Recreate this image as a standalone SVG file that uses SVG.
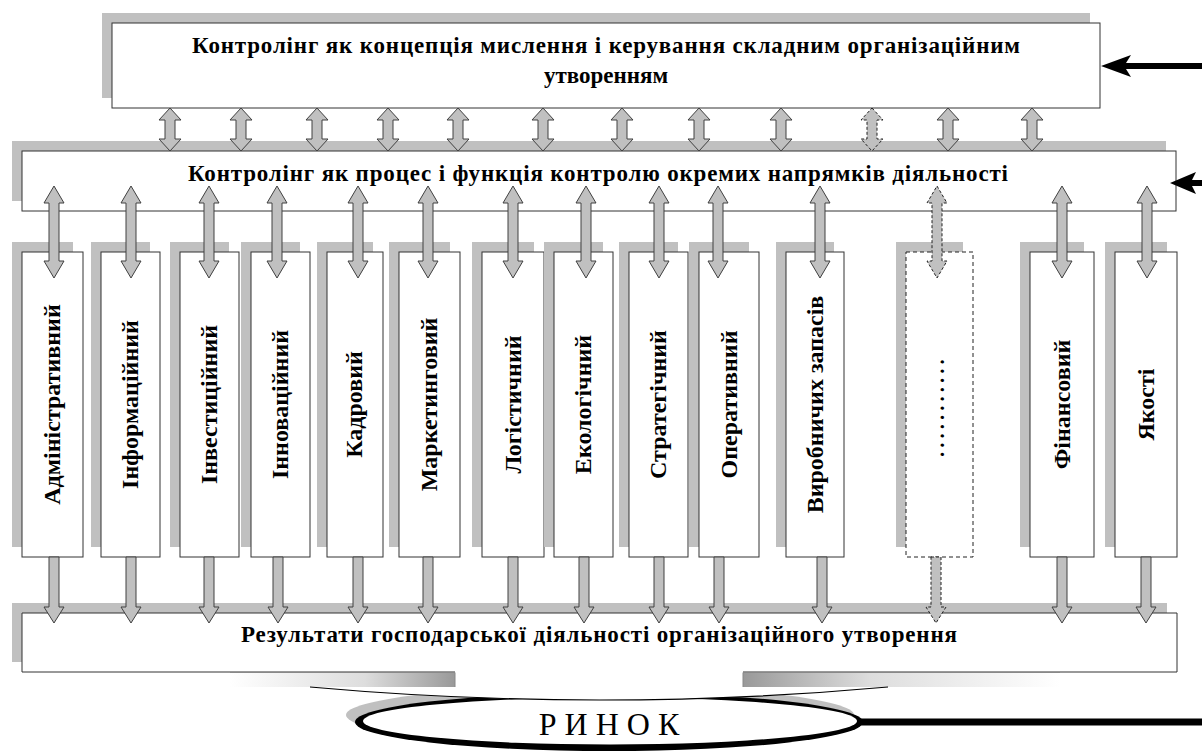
<svg xmlns="http://www.w3.org/2000/svg" width="1202" height="753" viewBox="0 0 1202 753">
<defs>
<style>
.sh{fill:#c0c0c0}
.bx{fill:#fff;stroke:#333;stroke-width:1}
.dbx{fill:#fff;stroke:#222;stroke-width:1;stroke-dasharray:4 3}
.t{font-family:"Liberation Serif","Times New Roman",serif;font-weight:bold;font-size:23px;fill:#000}
.vt{font-family:"Liberation Serif","Times New Roman",serif;font-weight:bold;font-size:24px;fill:#000;text-anchor:middle}
.arr{fill:#c0c0c0;stroke:#404040;stroke-width:1}
.darr{fill:#c0c0c0;stroke:#222;stroke-width:1;stroke-dasharray:3 2}
.blk{fill:#000}
</style>
<path id="dblS" d="M0,0 L11,12 L5,12 L5,31 L11,31 L0,43 L-11,31 L-5,31 L-5,12 L-11,12 Z"/>
<path id="dblL" d="M0,0 L10,17 L5,17 L5,75 L10,75 L0,92 L-10,75 L-5,75 L-5,17 L-10,17 Z"/>
<path id="down" d="M-5,0 L5,0 L5,50 L10,50 L0,66 L-10,50 L-5,50 Z"/>
<linearGradient id="gL" x1="0" x2="1" y1="0" y2="0"><stop offset="0" stop-color="#fff"/><stop offset="0.6" stop-color="#ddd"/><stop offset="1" stop-color="#999"/></linearGradient>
<linearGradient id="gR" x1="0" x2="1" y1="0" y2="0"><stop offset="0" stop-color="#999"/><stop offset="0.4" stop-color="#ddd"/><stop offset="1" stop-color="#fff"/></linearGradient>
</defs>
<rect width="1202" height="753" fill="#fff"/>

<g id="top-box">
<rect class="sh" x="102" y="13" width="988" height="85"/>
<rect class="bx" x="112" y="23" width="988" height="85"/>
<text class="t" x="606" y="53" text-anchor="middle" textLength="828" lengthAdjust="spacing">Контролінг як концепція мислення і керування складним організаційним</text>
<text class="t" x="606" y="83" text-anchor="middle">утворенням</text>
</g>

<g id="process-box">
<rect class="sh" x="12" y="141" width="1154" height="60"/>
<rect class="bx" x="22" y="151" width="1154" height="60"/>
<text class="t" x="598" y="181" text-anchor="middle" textLength="820" lengthAdjust="spacing">Контролінг як процес і функція контролю окремих напрямків діяльності</text>
</g>

<g id="box-adm"><rect class="sh" x="12" y="242" width="61" height="305"/><rect class="bx" x="22" y="252" width="61" height="305"/><text class="vt" transform="translate(60,404.5) rotate(-90)">Адміністративний</text></g>
<g id="box-inf"><rect class="sh" x="91" y="242" width="59" height="305"/><rect class="bx" x="101" y="252" width="59" height="305"/><text class="vt" transform="translate(138,404.5) rotate(-90)">Інформаційний</text></g>
<g id="box-inv"><rect class="sh" x="170" y="242" width="59" height="305"/><rect class="bx" x="180" y="252" width="59" height="305"/><text class="vt" transform="translate(217,404.5) rotate(-90)">Інвестиційний</text></g>
<g id="box-inn"><rect class="sh" x="241" y="242" width="59" height="305"/><rect class="bx" x="251" y="252" width="59" height="305"/><text class="vt" transform="translate(288,404.5) rotate(-90)">Інноваційний</text></g>
<g id="box-kad"><rect class="sh" x="317" y="242" width="56" height="305"/><rect class="bx" x="327" y="252" width="56" height="305"/><text class="vt" transform="translate(362,404.5) rotate(-90)">Кадровий</text></g>
<g id="box-mar"><rect class="sh" x="389" y="242" width="61" height="305"/><rect class="bx" x="399" y="252" width="61" height="305"/><text class="vt" transform="translate(437,404.5) rotate(-90)">Маркетинговий</text></g>
<g id="box-log"><rect class="sh" x="472" y="242" width="62" height="305"/><rect class="bx" x="482" y="252" width="62" height="305"/><text class="vt" transform="translate(521,404.5) rotate(-90)">Логістичний</text></g>
<g id="box-eko"><rect class="sh" x="544" y="242" width="59" height="305"/><rect class="bx" x="554" y="252" width="59" height="305"/><text class="vt" transform="translate(591,404.5) rotate(-90)">Екологічний</text></g>
<g id="box-str"><rect class="sh" x="619" y="242" width="59" height="305"/><rect class="bx" x="629" y="252" width="59" height="305"/><text class="vt" transform="translate(666,404.5) rotate(-90)">Стратегічний</text></g>
<g id="box-ope"><rect class="sh" x="689" y="242" width="60" height="305"/><rect class="bx" x="699" y="252" width="60" height="305"/><text class="vt" transform="translate(737,404.5) rotate(-90)">Оперативний</text></g>
<g id="box-vyr"><rect class="sh" x="776" y="242" width="58" height="305"/><rect class="bx" x="786" y="252" width="58" height="305"/><text class="vt" transform="translate(823,404.5) rotate(-90)">Виробничих запасів</text></g>
<g id="box-etc"><rect class="sh" x="896" y="242" width="67" height="305"/><rect class="dbx" x="906" y="252" width="67" height="305"/><text class="vt" style="font-size:21px;letter-spacing:4px" transform="translate(944,406) rotate(-90)">...........</text></g>
<g id="box-fin"><rect class="sh" x="1020" y="242" width="64" height="305"/><rect class="bx" x="1030" y="252" width="64" height="305"/><text class="vt" transform="translate(1070,404.5) rotate(-90)">Фінансовий</text></g>
<g id="box-yak"><rect class="sh" x="1105" y="242" width="62" height="305"/><rect class="bx" x="1115" y="252" width="62" height="305"/><text class="vt" transform="translate(1154,404.5) rotate(-90)">Якості</text></g>

<g id="result-box">
<rect class="sh" x="12" y="603" width="1155" height="59"/>
<path d="M455,672 H22 V613 H1177 V672 H743" fill="#fff" stroke="#333" stroke-width="1"/>
<text class="t" x="599" y="642" text-anchor="middle" textLength="716" lengthAdjust="spacing">Результати господарської діяльності організаційного утворення</text>
</g>

<g id="market">
<ellipse cx="600" cy="715" rx="254" ry="29" fill="#c0c0c0"/>
<ellipse cx="609" cy="722" rx="254" ry="29" fill="#000"/>
<ellipse cx="610" cy="721" rx="247" ry="23.5" fill="#fff"/>
<path d="M300,687 Q600,713 898,687 L898,673 L300,673 Z" fill="#fff"/>
<rect x="230" y="672.5" width="225" height="14.5" fill="url(#gL)"/>
<line x1="455" y1="672.5" x2="455" y2="687" stroke="#888" stroke-width="1"/>
<rect x="743" y="672.5" width="317" height="14.5" fill="url(#gR)"/>
<line x1="743" y1="672.5" x2="743" y2="687" stroke="#888" stroke-width="1"/>
<line x1="230" y1="672.5" x2="455" y2="672.5" stroke="#888" stroke-width="1"/>
<line x1="743" y1="672.5" x2="1060" y2="672.5" stroke="#888" stroke-width="1"/>
<path d="M310,687 Q600,713 888,687" fill="none" stroke="#000" stroke-width="1.2"/>
<text x="609" y="735" text-anchor="middle" font-family="'Liberation Serif','Times New Roman',serif" font-size="32" fill="#000">Р И Н О К</text>
</g>

<g id="connectors">
<use href="#dblS" class="arr" transform="translate(170,108)"/>
<use href="#dblS" class="arr" transform="translate(241,108)"/>
<use href="#dblS" class="arr" transform="translate(317,108)"/>
<use href="#dblS" class="arr" transform="translate(388,108)"/>
<use href="#dblS" class="arr" transform="translate(458,108)"/>
<use href="#dblS" class="arr" transform="translate(543,108)"/>
<use href="#dblS" class="arr" transform="translate(622,108)"/>
<use href="#dblS" class="arr" transform="translate(699,108)"/>
<use href="#dblS" class="arr" transform="translate(781,108)"/>
<use href="#dblS" class="darr" transform="translate(872,108)"/>
<use href="#dblS" class="arr" transform="translate(948,108)"/>
<use href="#dblS" class="arr" transform="translate(1032,108)"/>

<use href="#dblL" class="arr" transform="translate(54,186)"/>
<use href="#dblL" class="arr" transform="translate(131,186)"/>
<use href="#dblL" class="arr" transform="translate(209,186)"/>
<use href="#dblL" class="arr" transform="translate(277,186)"/>
<use href="#dblL" class="arr" transform="translate(358,186)"/>
<use href="#dblL" class="arr" transform="translate(428,186)"/>
<use href="#dblL" class="arr" transform="translate(513,186)"/>
<use href="#dblL" class="arr" transform="translate(586,186)"/>
<use href="#dblL" class="arr" transform="translate(659,186)"/>
<use href="#dblL" class="arr" transform="translate(718,186)"/>
<use href="#dblL" class="arr" transform="translate(820,186)"/>
<use href="#dblL" class="darr" transform="translate(937,186)"/>
<use href="#dblL" class="arr" transform="translate(1062,186)"/>
<use href="#dblL" class="arr" transform="translate(1147,186)"/>

<use href="#down" class="arr" transform="translate(54,557)"/>
<use href="#down" class="arr" transform="translate(131,557)"/>
<use href="#down" class="arr" transform="translate(209,557)"/>
<use href="#down" class="arr" transform="translate(278,557)"/>
<use href="#down" class="arr" transform="translate(358,557)"/>
<use href="#down" class="arr" transform="translate(428,557)"/>
<use href="#down" class="arr" transform="translate(513,557)"/>
<use href="#down" class="arr" transform="translate(584,557)"/>
<use href="#down" class="arr" transform="translate(659,557)"/>
<use href="#down" class="arr" transform="translate(719,557)"/>
<use href="#down" class="arr" transform="translate(822,557)"/>
<use href="#down" class="darr" transform="translate(936,557)"/>
<use href="#down" class="arr" transform="translate(1062,557)"/>
<use href="#down" class="arr" transform="translate(1146,557)"/>

<path class="blk" d="M1101,66 L1131,55 L1126,63 L1202,63 L1202,69 L1126,69 L1131,77 Z"/>
<path class="blk" d="M1170,183 L1196,172 L1192,180 L1202,180 L1202,186 L1192,186 L1196,194 Z"/>
<line x1="858" y1="722" x2="1202" y2="722" stroke="#000" stroke-width="7"/>
</g>
</svg>
